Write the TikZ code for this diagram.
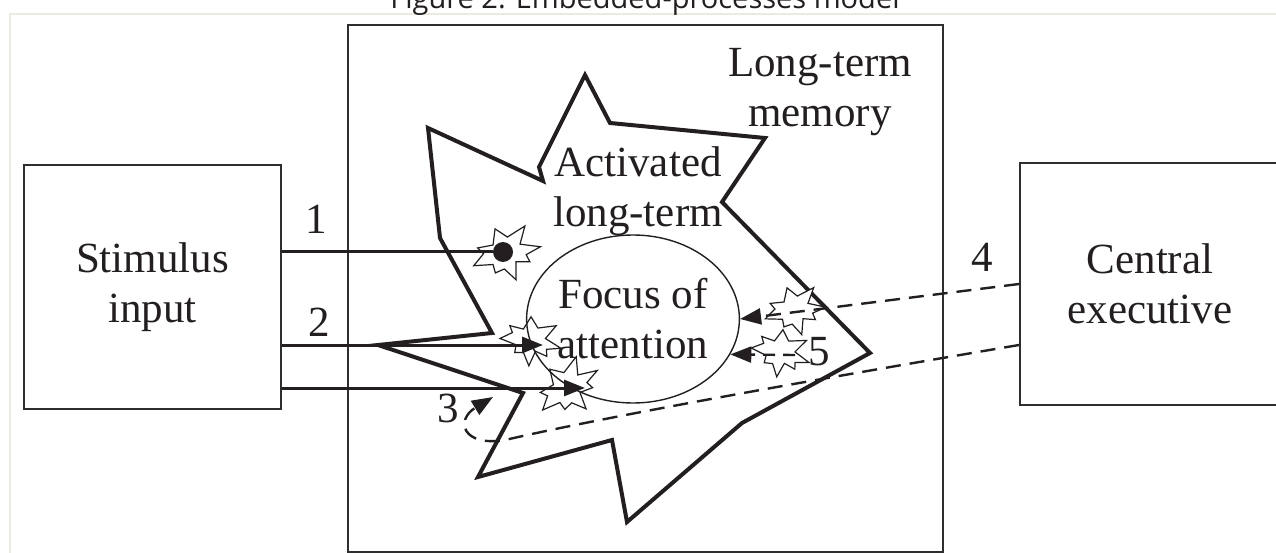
\documentclass[tikz,border=0pt]{standalone}
\usepackage{fontspec}
\setmainfont{Liberation Serif}
\newfontfamily\capfont{Open Sans}
\usepackage{xcolor}
\usepackage{tikz}
\usetikzlibrary{positioning,calc,shapes.geometric,arrows.meta}
\definecolor{ink}{HTML}{231F20}
\definecolor{boxline}{HTML}{2E2E2E}
\definecolor{frame}{HTML}{ECEADF}
\newcommand{\labelfont}{\fontsize{43}{50}\selectfont}
\newcommand{\burst}[3]{\draw[burstline,shift={(#1)},rotate=#2,scale=#3,yscale=0.8]
  (0:1) -- (18:0.6) -- (35:0.78) -- (55:0.45) -- (80:1) -- (100:0.55) -- (120:0.72) -- (140:0.5)
  -- (165:0.95) -- (190:0.6) -- (205:0.8) -- (230:0.45) -- (260:0.9) -- (285:0.55) -- (310:1.05)
  -- (335:0.5) -- cycle;}

\begin{document}
\begin{tikzpicture}[x=1pt,y=-1pt,
    box/.style={draw=boxline,line width=2pt,inner sep=0pt,align=center,font=\labelfont,text=ink},
    starline/.style={draw=ink,line width=4pt,line join=miter},
    burstline/.style={draw=ink,fill=white,line width=1.2pt},
    feed/.style={draw=ink,line width=3pt},
    cue/.style={draw=ink,line width=2.4pt,dash pattern=on 15pt off 9pt},
    tip/.style={-{Triangle[length=21pt,width=16pt]}},
    txt/.style={align=center,font=\labelfont,text=ink},
    num/.style={anchor=base,font=\labelfont,text=ink}
]
\useasboundingbox (0,0) rectangle (1276,553);
\clip (0,0) rectangle (1276,553);
\fill[white] (0,0) rectangle (1276,553);
\draw[frame,line width=1.2pt] (10,580) -- (10,14) -- (1300,14);
\node[anchor=base,font=\capfont\fontsize{29}{32}\selectfont,text=ink] (caption) at (645,8.5) {Figure 2. Embedded-processes model};
\node[box,minimum width=595,minimum height=527] (ltm) at (645.5,288.5) {};
\node[box,minimum width=257,minimum height=244] (stim) at (152.5,287) {Stimulus\\input};
\node[box,minimum width=260,minimum height=242] (ce) at (1150,284) {Central\\executive};
\node[txt] (ltmlabel) at (820,92) {Long-term\\memory};
\draw[starline] (428,128) -- (543,181) -- (539,167) -- (585,75) -- (610,123) -- (765,138) -- (722,202)
  -- (870,353) -- (742,423) -- (627,522) -- (612,440) -- (478,477) -- (523,393) -- (378,345)
  -- (492,333) -- (440,238) -- cycle;
\node[txt] (actlabel) at (638,191) {Activated\\long-term};
\burst{505,253}{10}{36}
\burst{530,340}{-15}{32}
\burst{567,388}{30}{35}
\burst{794,310}{5}{32}
\burst{780,352}{-20}{31}
\node[ellipse,draw=ink,line width=1.4pt,minimum width=203,minimum height=168,inner sep=0pt,txt] (focus) at (633,319) {Focus of\\attention};
\node[circle,fill=ink,minimum size=20,inner sep=0pt] (dot) at (503,252) {};
\coordinate (tip2) at (543,345);
\coordinate (tip3) at (585,388);
\coordinate (s5) at (795,355);
\draw[feed] (stim.east |- dot) -- (dot);
\draw[feed,tip] (stim.east |- tip2) -- (tip2);
\draw[feed,tip] (stim.east |- tip3) -- (tip3);
\draw[cue,tip] (ce.west) -- (focus.east);
\draw[cue,tip] ([yshift=-61pt]ce.west) .. controls (800,382) and (600,418) .. (505,440)
  .. controls (462,447) and (455,420) .. (493,397);
\draw[cue,dash pattern=on 12pt off 8pt,tip] (s5) -- (focus.-20);
\node[num] (n1) at (316,234) {1};
\node[num] (n2) at (319,336) {2};
\node[num] (n3) at (448,422) {3};
\node[num] (n4) at (982,272) {4};
\node[num] (n5) at (819,365) {5};
\end{tikzpicture}
\end{document}
